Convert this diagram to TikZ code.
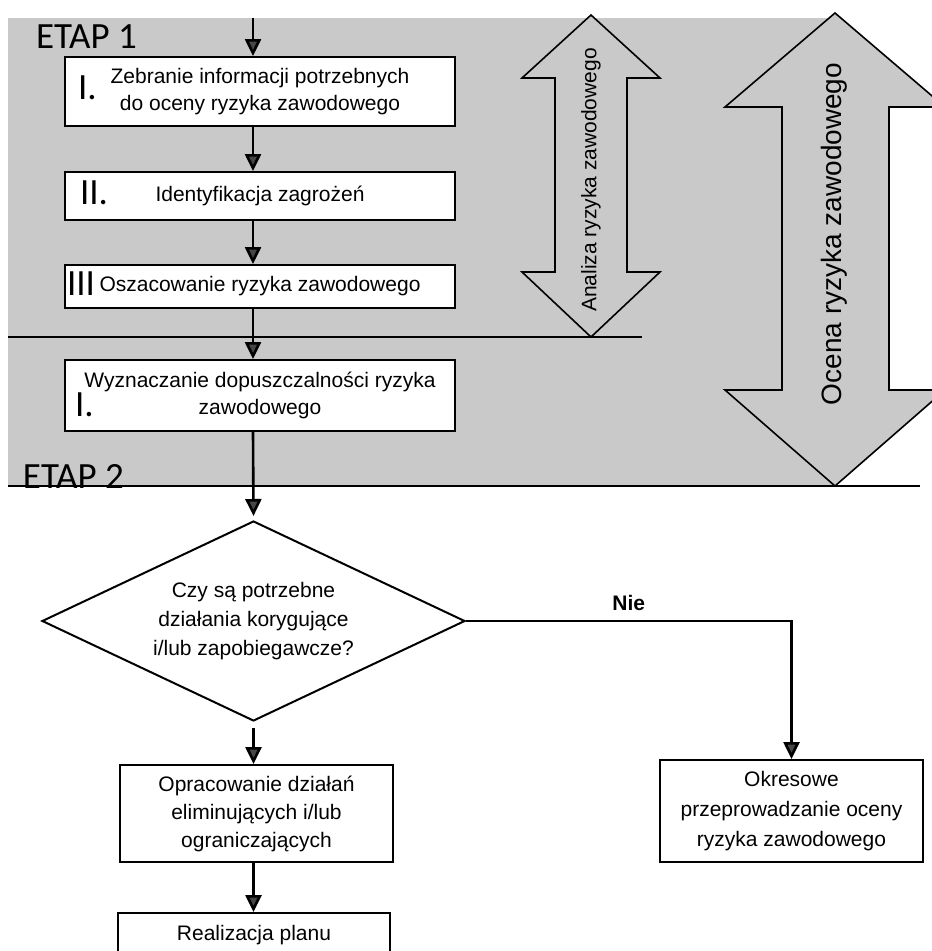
\documentclass[tikz,border=0pt]{standalone}
\usepackage{fontspec}
\setmainfont{Liberation Sans}
\newfontfamily\etapfont{Carlito}
\usetikzlibrary{arrows.meta,shapes.geometric,positioning}

\definecolor{bgGrey}{RGB}{201,201,201}
\definecolor{tipGrey}{RGB}{70,70,70}

\begin{document}
\begin{tikzpicture}[x=1pt,y=-1pt,line width=2pt]
    \tikzset{
        stepbox/.style={
            draw, fill=white, line width=2pt, align=center, inner sep=0pt,
            minimum width=390pt,
            font=\fontsize{21}{27}\selectfont
        },
        lowbox/.style={
            stepbox, minimum width=273pt,
            font=\fontsize{21}{28}\selectfont
        },
        roman/.style={
            anchor=west, inner sep=0pt,
            font=\etapfont\fontsize{37}{37}\selectfont
        },
        flow/.style={
            line width=2.6pt,
            -{Triangle[width=16pt,length=17pt,fill=tipGrey]}
        },
        bigarrow/.style={draw, fill=bgGrey, line width=1.6pt},
        divider/.style={line width=2.4pt}
    }

    \clip (0,0) rectangle (932,951);

    % etap 1 background
    \fill[bgGrey] (8,18) rectangle (835,486);

    % analiza / ocena arrows
    \draw[bigarrow] (591,15) -- (660,78) -- (627,78) -- (627,272) -- (660,272)
        -- (591,337) -- (522,272) -- (555,272) -- (555,78) -- (522,78) -- cycle;
    \draw[bigarrow] (835,13) -- (945,107) -- (889,107) -- (889,390) -- (945,390)
        -- (835,486) -- (725,390) -- (782,390) -- (782,107) -- (725,107) -- cycle;
    \node[rotate=90, font=\fontsize{21}{21}\selectfont] (analiza) at (591,180) {Analiza ryzyka zawodowego};
    \node[rotate=90, font=\fontsize{28}{28}\selectfont] (ocena) at (834,234) {Ocena ryzyka zawodowego};

    \coordinate (lineA west) at (8,337);
    \coordinate (lineA east) at (642,337);
    \coordinate (lineB west) at (8,486);
    \coordinate (lineB east) at (920,486);

    \node[roman, anchor=base west] (etap1) at (35,48) {ETAP 1};
    \node[roman, anchor=base west] (etap2) at (22,488) {ETAP 2};

    \node[stepbox, minimum height=69pt] (zebranie) at (260,91.5)
        {Zebranie informacji potrzebnych\\do oceny ryzyka zawodowego};
    \node[stepbox, minimum height=48pt] (identyf) at (260,196) {Identyfikacja zagrożeń};
    \node[stepbox, minimum height=43pt] (oszac) at (260,286.5) {Oszacowanie ryzyka zawodowego};
    \node[stepbox, minimum height=71pt] (wyznacz) at (260,395.5)
        {Wyznaczanie dopuszczalności ryzyka\\zawodowego};

    \node[roman] (num1) at (77,88) {I.};
    \node[roman] (num2) at (79,193) {II.};
    \node[roman] (num3) at (66,284) {III};
    \node[roman] (num4) at (74,405) {I.};

    \draw[divider] (lineA west) -- (lineA east);
    \draw[divider] (lineB west) -- (lineB east);

    % etap 2
    \node[diamond, draw, fill=white, line width=2pt, aspect=2.1, inner sep=0pt,
        minimum width=423pt, minimum height=200pt, align=center,
        font=\fontsize{21}{29}\selectfont] (decyzja) at (253.5,621)
        {Czy są potrzebne\\działania korygujące\\i/lub zapobiegawcze?};
    \node[lowbox, minimum height=97pt] (opracow) at (256.5,813.5)
        {Opracowanie działań\\eliminujących i/lub\\ograniczających};
    \node[lowbox, minimum width=272pt, minimum height=44pt] (realiz) at (254,935) {Realizacja planu};
    \node[lowbox, minimum width=263pt, minimum height=102pt,
        font=\fontsize{21}{30}\selectfont] (okres) at (791.5,811)
        {Okresowe\\przeprowadzanie oceny\\ryzyka zawodowego};

    \coordinate (entry) at (253,18);
    \draw[flow] (entry) -- (entry |- zebranie.north);
    \draw[flow] (zebranie.south -| entry) -- (identyf.north -| entry);
    \draw[flow] (identyf.south -| entry) -- (oszac.north -| entry);
    \draw[flow] (oszac.south -| entry) -- (wyznacz.north -| entry);
    \draw[flow, shorten >=4pt] (wyznacz.south -| entry) -- (decyzja.north);
    \draw[flow, shorten <=6pt] (decyzja.south) -- (decyzja.south |- opracow.north);
    \draw[flow] (opracow.south -| decyzja.south) -- (realiz.north -| decyzja.south);
    \draw[flow] (decyzja.east) -| node[pos=0.25, above=6pt, font=\bfseries\fontsize{21}{21}\selectfont] {Nie} (okres.north);
\end{tikzpicture}
\end{document}
